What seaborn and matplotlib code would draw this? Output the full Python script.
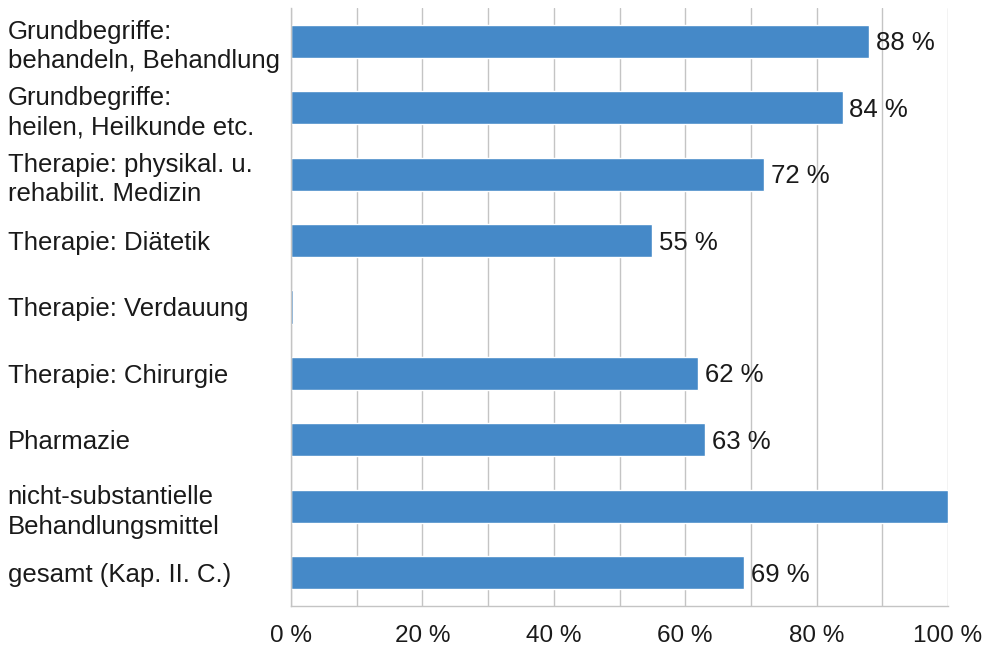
import numpy as np
import pandas as pd
import seaborn as sns
import matplotlib.pyplot as plt
from matplotlib.ticker import MultipleLocator, FuncFormatter

# Daten
kategorien = [
    "Grundbegriffe:\nbehandeln, Behandlung",
    "Grundbegriffe:\nheilen, Heilkunde etc.",
    "Therapie: physikal. u.\nrehabilit. Medizin",
    "Therapie: Diätetik",
    "Therapie: Verdauung",
    "Therapie: Chirurgie",
    "Pharmazie",
    "nicht-substantielle\nBehandlungsmittel",
    "gesamt (Kap. II. C.)",
]
werte = [88, 84, 72, 55, 0.3, 62, 63, 100, 69]
beschriftungen = ["88 %", "84 %", "72 %", "55 %", "", "62 %", "63 %", "", "69 %"]

df = pd.DataFrame({"kategorie": kategorien, "wert": werte})

sns.set_theme(style="white")
plt.rcParams['font.family'] = ['Liberation Sans', 'DejaVu Sans']

textfarbe = '#1a1a1a'
gitter = '#c4c4c4'
fs = 18.5

fig, ax = plt.subplots(figsize=(9.9, 6.52), dpi=100)
fig.subplots_adjust(left=0.294, right=0.9576, top=0.9877, bottom=0.0706)

sns.barplot(data=df, x="wert", y="kategorie", orient="h", color='#4589C8',
            saturation=1, width=0.5, ax=ax)

# Wertbeschriftungen
for i, (w, t) in enumerate(zip(werte, beschriftungen)):
    if t:
        ax.text(w + 1.0, i + 0.03, t, va='center', ha='left', fontsize=fs, color=textfarbe)

ax.set_xlim(0, 100)
ax.set_ylim(len(kategorien) - 0.5, -0.5)

# x-Achse
ax.xaxis.set_major_locator(MultipleLocator(20))
ax.xaxis.set_minor_locator(MultipleLocator(10))
ax.xaxis.set_major_formatter(FuncFormatter(lambda v, p: f"{v:.0f} %"))
ax.grid(True, axis='x', which='both', color=gitter, linewidth=1.0)
ax.set_axisbelow(True)
ax.tick_params(axis='x', which='major', direction='out', length=10, width=1.0,
               color=gitter, labelsize=17.5, labelcolor=textfarbe, pad=4)
ax.tick_params(axis='x', which='minor', length=0)

# y-Achse
ax.set_yticks(np.arange(-0.5, len(kategorien), 1), minor=True)
ax.tick_params(axis='y', which='minor', direction='in', length=12, width=1.0, color=gitter)
ax.tick_params(axis='y', which='major', length=0, labelsize=fs, labelcolor=textfarbe, pad=204)
for lbl in ax.get_yticklabels():
    lbl.set_horizontalalignment('left')
    lbl.set_multialignment('left')
    lbl.set_linespacing(1.3)

ax.set_xlabel("")
ax.set_ylabel("")

for s in ['top', 'right']:
    ax.spines[s].set_visible(False)
for s in ['left', 'bottom']:
    ax.spines[s].set_color(gitter)
    ax.spines[s].set_linewidth(1.0)

plt.savefig("out.png", dpi=100)
